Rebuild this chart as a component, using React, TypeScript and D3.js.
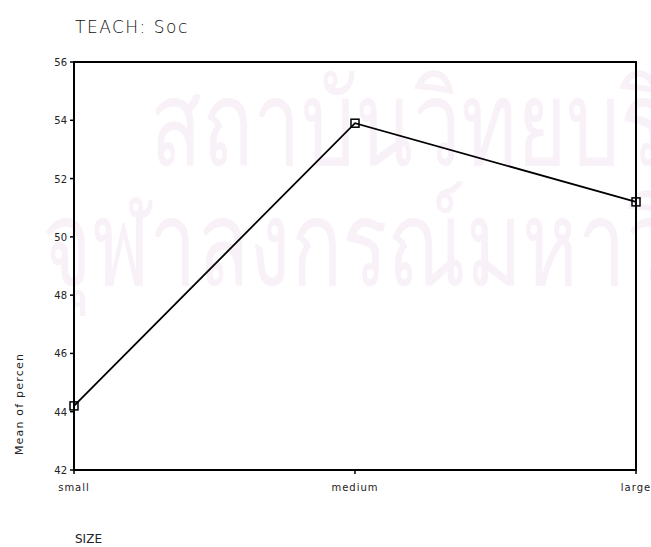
import React from "react";
import * as d3 from "d3";

const categories = ["small", "medium", "large"];
const means = [44.2, 53.9, 51.2];
const yTicks = [42, 44, 46, 48, 50, 52, 54, 56];
const watermark = ["สถาบันวิทยบริการ", "จุฬาลงกรณ์มหาวิทยาลัย"];

const width = 651;
const height = 547;
const margin = { top: 62, right: 15, bottom: 77, left: 74 };
const font = "'DejaVu Sans', sans-serif";

const App = () => {
  const x = d3
    .scalePoint<string>()
    .domain(categories)
    .range([margin.left, width - margin.right]);
  const y = d3
    .scaleLinear()
    .domain([42, 56])
    .range([height - margin.bottom, margin.top]);

  const line = d3
    .line<number>()
    .x((d, i) => x(categories[i]) as number)
    .y((d) => y(d));

  const x0 = margin.left;
  const x1 = width - margin.right;
  const y0 = height - margin.bottom;
  const y1 = margin.top;

  return (
    <svg
      width={width}
      height={height}
      style={{ position: "absolute", left: 0, top: 0, background: "#fff" }}
    >
      {/* faint watermark from the scanned page */}
      <g fill="#f9f1f8" fontFamily="'Noto Sans', sans-serif" fontSize={118}>
        <text transform="translate(150,165) scale(0.72,1)">{watermark[0]}</text>
        <text transform="translate(42,285) scale(0.72,1)">{watermark[1]}</text>
      </g>

      <text
        x={75}
        y={33}
        fontFamily={font}
        fontSize={17}
        fontWeight={300}
        letterSpacing={1.5}
        fill="#111"
      >
        TEACH: Soc
      </text>

      {/* frame */}
      <rect
        x={x0}
        y={y1}
        width={x1 - x0}
        height={y0 - y1}
        fill="none"
        stroke="#000"
        strokeWidth={2}
      />

      {yTicks.map((t) => (
        <g key={t}>
          <line x1={x0 - 4} x2={x0} y1={y(t)} y2={y(t)} stroke="#000" strokeWidth={1.5} />
          <text
            x={x0 - 7}
            y={y(t) + 4}
            textAnchor="end"
            fontFamily={font}
            fontSize={10}
            fill="#222"
          >
            {t}
          </text>
        </g>
      ))}

      {categories.map((c) => (
        <g key={c}>
          <line x1={x(c)} x2={x(c)} y1={y0} y2={y0 + 4} stroke="#000" strokeWidth={1.5} />
          <text
            x={x(c)}
            y={y0 + 21}
            textAnchor="middle"
            fontFamily={font}
            fontSize={10}
            letterSpacing={1}
            fill="#222"
          >
            {c}
          </text>
        </g>
      ))}

      <path d={line(means) || ""} fill="none" stroke="#000" strokeWidth={1.8} />
      {means.map((m, i) => (
        <rect
          key={i}
          x={(x(categories[i]) as number) - 4}
          y={y(m) - 4}
          width={8}
          height={8}
          fill="none"
          stroke="#000"
          strokeWidth={1.5}
        />
      ))}

      <text
        transform={`translate(23,404) rotate(-90)`}
        textAnchor="middle"
        fontFamily={font}
        fontSize={11}
        letterSpacing={1.2}
        fill="#222"
      >
        Mean of percen
      </text>

      <text x={75} y={543} fontFamily={font} fontSize={12} fill="#222">
        SIZE
      </text>
    </svg>
  );
};

export default App;
